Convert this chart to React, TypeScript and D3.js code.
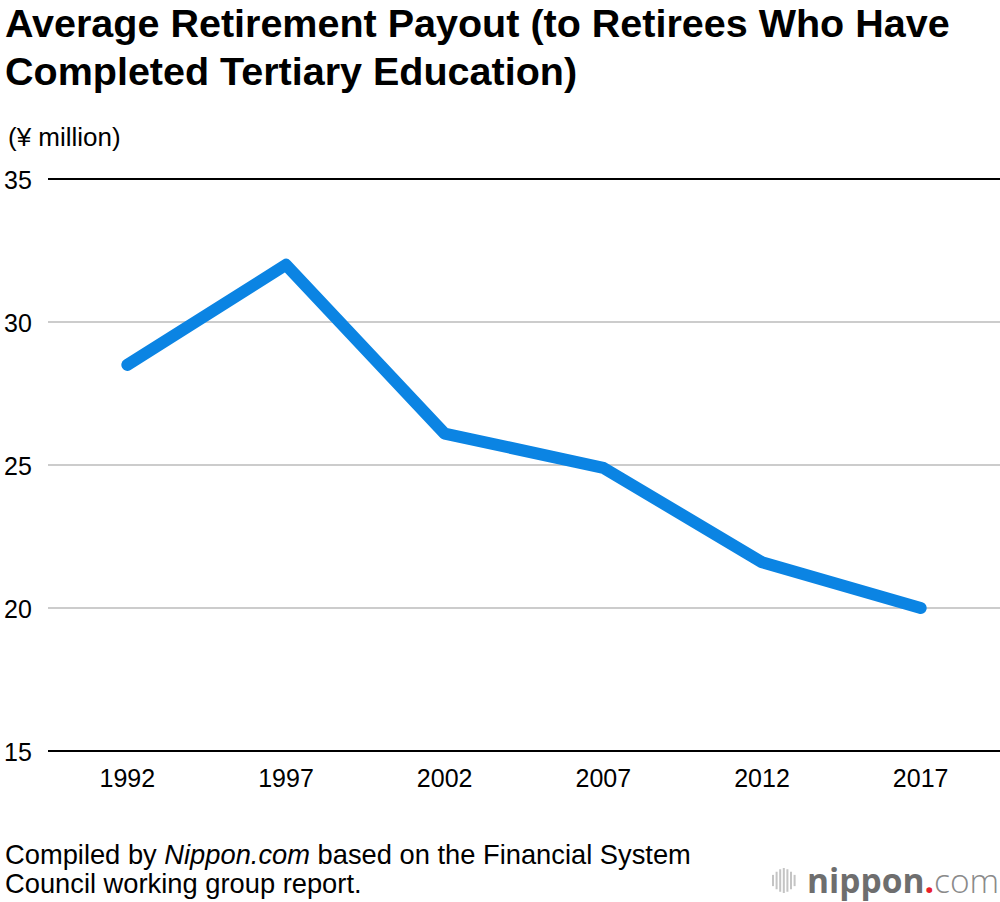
import { useEffect, useRef } from 'react';
import * as d3 from 'd3';

const years = ['1992', '1997', '2002', '2007', '2012', '2017'];
const payout = [28.5, 32.0, 26.1, 24.9, 21.6, 20.0];
const yTicks = [15, 20, 25, 30, 35];
const titleLines = [
  'Average Retirement Payout (to Retirees Who Have',
  'Completed Tertiary Education)',
];
const unitLabel = '(¥ million)';
const logoBars = [0.45, 0.7, 0.9, 1, 0.9, 0.7, 0.45];

const App = () => {
  const chartRef = useRef<SVGSVGElement>(null);
  const width = 1000;
  const height = 902;
  const marginTop = 179;
  const marginRight = 0;
  const marginBottom = 151;
  const marginLeft = 48;
  const font = "'Liberation Sans', Arial, Helvetica, sans-serif";

  useEffect(() => {
    const svg = d3.select(chartRef.current);
    svg.selectAll('*').remove();

    const x = d3.scaleBand()
      .domain(years)
      .range([marginLeft, width - marginRight])
      .padding(0);

    const y = d3.scaleLinear()
      .domain([15, 35])
      .range([height - marginBottom, marginTop]);

    // Title
    svg.append('g')
      .selectAll('text')
      .data(titleLines)
      .join('text')
      .attr('x', 5)
      .attr('y', (d, i) => 37 + i * 48)
      .attr('font-family', font)
      .attr('font-weight', 'bold')
      .attr('font-size', 39.5)
      .attr('fill', '#000')
      .text(d => d);

    svg.append('text')
      .attr('x', 8)
      .attr('y', 146)
      .attr('font-family', font)
      .attr('font-size', 26)
      .text(unitLabel);

    // Grid lines
    svg.append('g')
      .selectAll('line')
      .data(yTicks)
      .join('line')
      .attr('x1', marginLeft)
      .attr('x2', width - marginRight)
      .attr('y1', d => y(d))
      .attr('y2', d => y(d))
      .attr('stroke', d => (d === 15 || d === 35) ? '#000' : '#cccccc')
      .attr('stroke-width', 2);

    // Y axis labels
    svg.append('g')
      .selectAll('text')
      .data(yTicks)
      .join('text')
      .attr('x', 4)
      .attr('y', d => y(d) + 10)
      .attr('font-family', font)
      .attr('font-size', 25)
      .text(d => d);

    // X axis labels
    svg.append('g')
      .selectAll('text')
      .data(years)
      .join('text')
      .attr('x', d => x(d) + x.bandwidth() / 2)
      .attr('y', 787)
      .attr('text-anchor', 'middle')
      .attr('font-family', font)
      .attr('font-size', 25)
      .text(d => d);

    // Line
    const line = d3.line<number>()
      .x((d, i) => x(years[i]) + x.bandwidth() / 2)
      .y(d => y(d));

    svg.append('path')
      .datum(payout)
      .attr('d', line)
      .attr('fill', 'none')
      .attr('stroke', '#0b84e3')
      .attr('stroke-width', 12)
      .attr('stroke-linecap', 'round')
      .attr('stroke-linejoin', 'round');

    // Source
    const src = svg.append('g')
      .attr('font-family', font)
      .attr('font-size', 27.3);
    const l1 = src.append('text').attr('x', 5).attr('y', 864);
    l1.append('tspan').text('Compiled by ');
    l1.append('tspan').attr('font-style', 'italic').text('Nippon.com');
    l1.append('tspan').text(' based on the Financial System');
    src.append('text').attr('x', 5).attr('y', 893).text('Council working group report.');

    // Logo
    const logo = svg.append('g');
    logo.selectAll('rect')
      .data(logoBars)
      .join('rect')
      .attr('x', (d, i) => 772 + i * 3.6)
      .attr('y', d => 880.5 - 12.5 * d)
      .attr('width', 2)
      .attr('height', d => 25 * d)
      .attr('fill', '#c4c4c4');
    const lt = logo.append('text')
      .attr('x', 807)
      .attr('y', 893)
      .attr('font-family', "'Open Sans', sans-serif")
      .attr('font-size', 33.5);
    lt.append('tspan').attr('font-weight', 'bold').attr('fill', '#6e6e6e').text('nippon');
    lt.append('tspan').attr('font-weight', 'bold').attr('fill', '#e8202a').text('.');
    lt.append('tspan').attr('font-weight', 300).attr('fill', '#8a8a8a').text('com');
  }, []);

  return (
    <svg
      ref={chartRef}
      width={width}
      height={height}
      viewBox={`0 0 ${width} ${height}`}
      style={{ position: 'absolute', left: 0, top: 0, background: '#fff' }}
    />
  );
};

export default App;
